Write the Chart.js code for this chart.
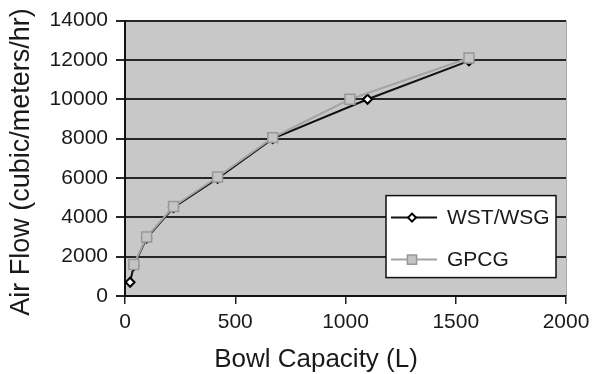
<!DOCTYPE html>
<html>
<head>
<meta charset="utf-8">
<script src="https://cdn.jsdelivr.net/npm/chart.js@4.4.1/dist/chart.umd.min.js"></script>
<style>
  html, body { margin: 0; padding: 0; background: #fff; }
  canvas { display: block; }
</style>
</head>
<body>
<canvas id="chart" width="595" height="374"></canvas>
<script>
// values
const seriesNames = ['WST/WSG', 'GPCG'];
const wstX  = [23, 40, 98, 220, 420, 670, 1100, 1560];
const wstY  = [700, 1550, 2950, 4500, 5980, 8000, 10000, 11950];
const gpcgX = [40, 98, 220, 420, 670, 1020, 1560];
const gpcgY = [1600, 3000, 4550, 6050, 8050, 10000, 12100];
const xTicks = [0, 500, 1000, 1500, 2000];
const yTicks = [0, 2000, 4000, 6000, 8000, 10000, 12000, 14000];
const xTitle = 'Bowl Capacity (L)';
const yTitle = 'Air Flow (cubic/meters/hr)';

const FONT = "'Liberation Sans', Arial, sans-serif";
const INK = '#1a1a1a';
const pts = (xs, ys) => xs.map((x, i) => ({ x: x, y: ys[i] }));

// gray plot background + thin right edge
const plotBg = {
  id: 'plotBg',
  beforeDraw(chart) {
    const { ctx, chartArea: a } = chart;
    ctx.save();
    ctx.fillStyle = '#c8c8c8';
    ctx.fillRect(a.left, a.top, a.right - a.left, a.bottom - a.top);
    ctx.strokeStyle = '#a8a8a8';
    ctx.lineWidth = 1;
    ctx.beginPath();
    ctx.moveTo(a.right + 0.5, a.top);
    ctx.lineTo(a.right + 0.5, a.bottom);
    ctx.stroke();
    ctx.restore();
  }
};

// boxed legend with line + marker samples, plus the x title (sits left of centre)
const boxLegend = {
  id: 'boxLegend',
  afterDraw(chart) {
    const { ctx, chartArea: a } = chart;
    const left = a.right - 180, top = a.top + 175, w = 170, h = 82;
    ctx.save();
    ctx.fillStyle = '#fff';
    ctx.fillRect(left, top, w, h);
    ctx.strokeStyle = '#111';
    ctx.lineWidth = 1.5;
    ctx.strokeRect(left, top, w, h);
    chart.data.datasets.forEach((ds, i) => {
      const y = top + 22 + i * 42;
      ctx.strokeStyle = ds.borderColor;
      ctx.lineWidth = ds.borderWidth;
      ctx.beginPath();
      ctx.moveTo(left + 5, y);
      ctx.lineTo(left + 51, y);
      ctx.stroke();
      ctx.fillStyle = ds.pointBackgroundColor;
      ctx.strokeStyle = ds.pointBorderColor;
      ctx.lineWidth = ds.pointBorderWidth;
      Chart.helpers.drawPoint(ctx, {
        pointStyle: ds.pointStyle, radius: ds.pointRadius - 0.5, rotation: 0,
        borderWidth: ds.pointBorderWidth
      }, left + 26, y);
      ctx.fillStyle = INK;
      ctx.font = '21px ' + FONT;
      ctx.textBaseline = 'middle';
      ctx.textAlign = 'left';
      ctx.fillText(seriesNames[i], left + 61, y + 1);
    });

    ctx.font = '26px ' + FONT;
    ctx.fillStyle = INK;
    ctx.textAlign = 'center';
    ctx.textBaseline = 'middle';
    ctx.fillText(xTitle, a.left + 191, 360);
    ctx.restore();
  }
};

new Chart(document.getElementById('chart'), {
  type: 'line',
  data: {
    datasets: [{
      label: seriesNames[0],
      data: pts(wstX, wstY),
      borderColor: '#111111',
      borderWidth: 2,
      pointStyle: 'rectRot',
      pointRadius: 4.5,
      pointBackgroundColor: '#ffffff',
      pointBorderColor: '#000000',
      pointBorderWidth: 2,
      tension: 0,
      order: 1
    }, {
      label: seriesNames[1],
      data: pts(gpcgX, gpcgY),
      borderColor: '#a4a4a4',
      borderWidth: 2,
      pointStyle: 'rect',
      pointRadius: 7,
      pointBackgroundColor: '#c4c4c4',
      pointBorderColor: '#989898',
      pointBorderWidth: 1.5,
      tension: 0,
      order: 0
    }]
  },
  options: {
    responsive: false,
    animation: false,
    devicePixelRatio: 1,
    layout: { padding: { top: 20, right: 29, left: 0, bottom: 0 } },
    plugins: {
      legend: { display: false },
      tooltip: { enabled: false }
    },
    scales: {
      x: {
        type: 'linear',
        min: 0, max: 2000,
        afterBuildTicks: s => { s.ticks = xTicks.map(v => ({ value: v })); },
        afterFit: s => { s.height = 78; s.paddingLeft = 0; s.paddingRight = 0; },
        grid: { drawOnChartArea: false, drawTicks: true, tickLength: 8, color: '#222', lineWidth: 1.5 },
        border: { color: '#111', width: 2 },
        ticks: {
          font: { family: FONT, size: 21 }, color: INK, padding: 6, maxRotation: 0,
          callback: v => String(v)
        }
      },
      y: {
        min: 0, max: 14000,
        afterBuildTicks: s => { s.ticks = yTicks.map(v => ({ value: v })); },
        afterFit: s => { s.width = 125; },
        grid: { color: '#262626', lineWidth: 2, tickLength: 9 },
        border: { color: '#111', width: 2 },
        ticks: {
          font: { family: FONT, size: 21 }, color: INK, padding: 8,
          callback: v => String(v)
        },
        title: {
          display: true, text: yTitle + ' ',
          font: { family: FONT, size: 27 }, color: INK,
          padding: { top: 5, bottom: 0 }
        }
      }
    }
  },
  plugins: [plotBg, boxLegend]
});
</script>
</body>
</html>
